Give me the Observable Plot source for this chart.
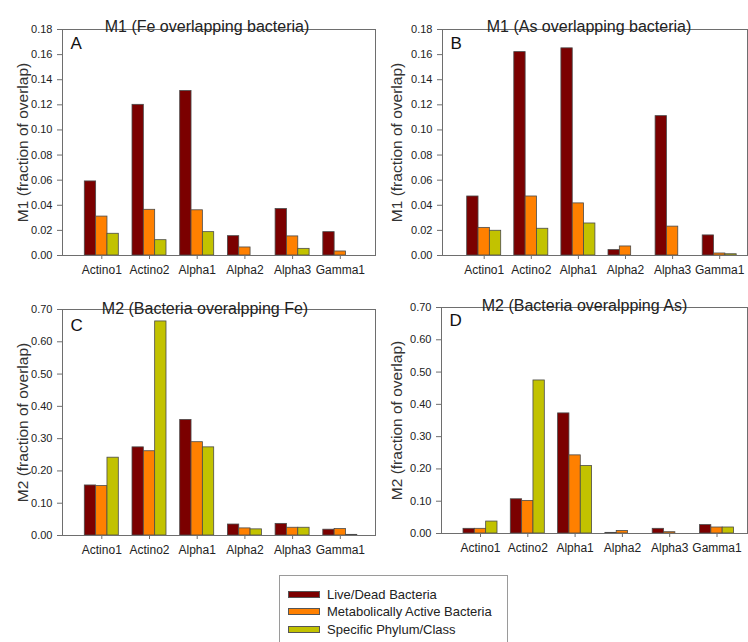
<!DOCTYPE html>
<html>
<head>
<meta charset="utf-8">
<script src="https://cdn.jsdelivr.net/npm/d3@7"></script>
<script src="https://cdn.jsdelivr.net/npm/@observablehq/plot@0.6"></script>
<style>
  html, body { margin: 0; padding: 0; background: #fff; }
  #root { position: relative; width: 748px; height: 642px; overflow: hidden; font-family: "Liberation Sans", Arial, sans-serif; }
  .panel { position: absolute; }
  .panel svg { background: transparent !important; overflow: visible; }
  #legend { position: absolute; left: 279px; top: 575px; width: 229px; height: 80px; border: 1px solid #9a9a9a; box-sizing: border-box; background: #fff; }
  .lg-item { position: absolute; left: 8px; height: 16px; display: flex; align-items: center; font-size: 13px; color: #222; white-space: nowrap; }
  .lg-sw { width: 30px; height: 5px; border: 1px solid #555; margin-right: 7px; }
</style>
</head>
<body>
<div id="root"></div>
<script>
// ---------- data ----------
const categories = ["Actino1", "Actino2", "Alpha1", "Alpha2", "Alpha3", "Gamma1"];
const seriesNames = ["Live/Dead Bacteria", "Metabolically Active Bacteria", "Specific Phylum/Class"];
const seriesColors = ["#7b0000", "#ff8000", "#c2c200"];

// Panel A: M1 (Fe overlapping bacteria)
const feM1Live    = [0.059, 0.120, 0.131, 0.0154, 0.037, 0.0186];
const feM1Active  = [0.031, 0.0364, 0.036, 0.0064, 0.0152, 0.0032];
const feM1Phylum  = [0.0173, 0.0122, 0.0186, 0, 0.0053, 0];

// Panel B: M1 (As overlapping bacteria)
const asM1Live    = [0.047, 0.162, 0.165, 0.0043, 0.111, 0.016];
const asM1Active  = [0.022, 0.047, 0.0415, 0.0072, 0.023, 0.0016];
const asM1Phylum  = [0.0197, 0.0213, 0.0255, 0, 0, 0.001];

// Panel C: M2 (Bacteria overalpping Fe)
const feM2Live    = [0.155, 0.273, 0.358, 0.034, 0.036, 0.018];
const feM2Active  = [0.153, 0.261, 0.289, 0.022, 0.024, 0.020];
const feM2Phylum  = [0.241, 0.663, 0.273, 0.019, 0.024, 0.002];

// Panel D: M2 (Bacteria overalpping As)
const asM2Live    = [0.0145, 0.106, 0.372, 0.002, 0.0145, 0.026];
const asM2Active  = [0.0145, 0.101, 0.242, 0.008, 0.004, 0.0186];
const asM2Phylum  = [0.037, 0.474, 0.209, 0, 0, 0.0186];

const yTicksM1 = [0, 0.02, 0.04, 0.06, 0.08, 0.10, 0.12, 0.14, 0.16, 0.18];
const yTicksM2 = [0, 0.10, 0.20, 0.30, 0.40, 0.50, 0.60, 0.70];

const titles = ["M1 (Fe overlapping bacteria)", "M1 (As overlapping bacteria)",
                "M2 (Bacteria overalpping Fe)", "M2 (Bacteria overalpping As)"];
const letters = ["A", "B", "C", "D"];
const yLabels = ["M1 (fraction of overlap)", "M1 (fraction of overlap)",
                 "M2 (fraction of overlap)", "M2 (fraction of overlap)"];

// ---------- layout ----------
const panels = [
  {series: [feM1Live, feM1Active, feM1Phylum], ticks: yTicksM1, max: 0.18,
   left: 0, top: 0, width: 380, height: 285, mt: 29, mb: 30, ml: 62, mr: 5,
   start: 84.3, step: 47.7, bw: 34, tdx: -12, tdy: -9, ldy: 19},
  {series: [asM1Live, asM1Active, asM1Phylum], ticks: yTicksM1, max: 0.18,
   left: 374, top: 0, width: 374, height: 285, mt: 29, mb: 30, ml: 68, mr: 1,
   start: 92.7, step: 47.1, bw: 34, tdx: -6, tdy: -9, ldy: 19},
  {series: [feM2Live, feM2Active, feM2Phylum], ticks: yTicksM2, max: 0.70,
   left: 0, top: 280, width: 380, height: 285, mt: 29, mb: 30, ml: 62, mr: 5,
   start: 84.3, step: 47.7, bw: 34, tdx: -14, tdy: -7, ldy: 21},
  {series: [asM2Live, asM2Active, asM2Phylum], ticks: yTicksM2, max: 0.70,
   left: 374, top: 280, width: 374, height: 285, mt: 27, mb: 32, ml: 67, mr: 1,
   start: 89, step: 47.3, bw: 34, tdx: -10, tdy: -8, ldy: 18}
];

const root = document.getElementById("root");
const font = "'Liberation Sans', Arial, sans-serif";

panels.forEach((p, i) => {
  const rows = [];
  p.series.forEach((vals, k) => {
    categories.forEach((c, j) => rows.push({cat: c, k, series: seriesNames[k], v: vals[j]}));
  });
  const pad = 1 - p.bw / p.step;
  const third = p.bw / 3;
  const barMarks = seriesNames.map((s, k) =>
    Plot.barY(rows.filter(d => d.k === k && d.v > 0), {
      x: "cat", y: "v", fill: seriesColors[k], stroke: "#4a4a4a", strokeWidth: 0.8,
      insetLeft: k * third, insetRight: (2 - k) * third
    })
  );
  const chart = Plot.plot({
    width: p.width, height: p.height,
    marginTop: p.mt, marginBottom: p.mb, marginLeft: p.ml, marginRight: p.mr,
    style: {background: "transparent", fontFamily: font, color: "#222", overflow: "visible"},
    x: {type: "band", domain: categories, range: [p.start, p.start + 5 * p.step + p.bw],
        paddingInner: pad, paddingOuter: 0, round: false, axis: null},
    y: {domain: [0, p.max], axis: null},
    marks: [
      ...barMarks,
      Plot.frame({stroke: "#6e6e6e", strokeWidth: 1}),
      Plot.axisY({ticks: p.ticks, tickFormat: d3.format(".2f"), tickSize: 5, tickPadding: 5,
                  fontSize: 11, label: null, stroke: "#6e6e6e"}),
      Plot.axisX({tickSize: 4, tickPadding: 6, fontSize: 12, label: null, stroke: "#6e6e6e"}),
      Plot.text([titles[i]], {frameAnchor: "top", dx: p.tdx, dy: p.tdy, fontSize: 16, fill: "#222"}),
      Plot.text([letters[i]], {frameAnchor: "top-left", textAnchor: "start", lineAnchor: "bottom",
                               dx: 8, dy: p.ldy, fontSize: 17, fill: "#111"}),
      Plot.text([yLabels[i]], {frameAnchor: "left", textAnchor: "middle", lineAnchor: "middle",
                               dx: -(p.ml - 23), rotate: -90, fontSize: 15.5, fill: "#333"})
    ]
  });
  const wrap = document.createElement("div");
  wrap.className = "panel";
  wrap.style.left = p.left + "px";
  wrap.style.top = p.top + "px";
  wrap.appendChild(chart);
  root.appendChild(wrap);
});

// ---------- legend ----------
const legend = document.createElement("div");
legend.id = "legend";
const rowCenters = [18.3, 35.7, 53];
seriesNames.forEach((name, k) => {
  const item = document.createElement("div");
  item.className = "lg-item";
  item.style.top = (rowCenters[k] - 8) + "px";
  const sw = document.createElement("div");
  sw.className = "lg-sw";
  sw.style.background = seriesColors[k];
  const tx = document.createElement("span");
  tx.textContent = name;
  item.appendChild(sw);
  item.appendChild(tx);
  legend.appendChild(item);
});
root.appendChild(legend);
</script>
</body>
</html>
